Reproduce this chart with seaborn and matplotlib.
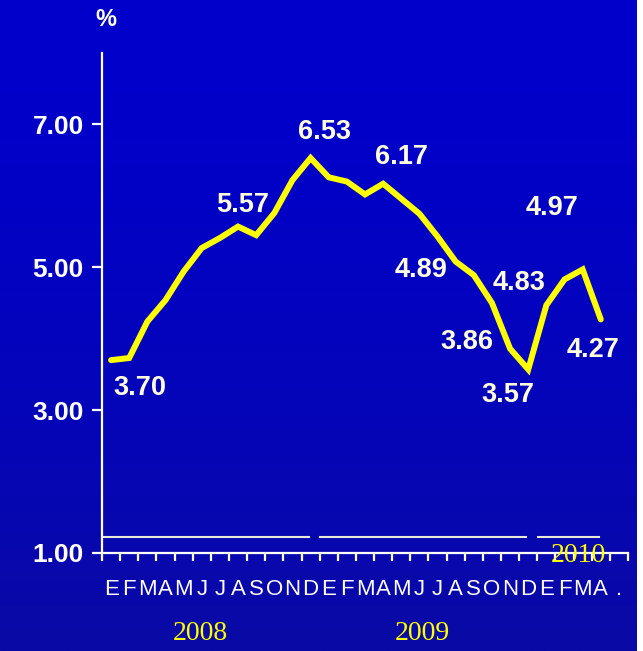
import numpy as np
import pandas as pd
import matplotlib
matplotlib.use("Agg")
import matplotlib.pyplot as plt
import seaborn as sns

# ---- data ----
months = ["E", "F", "M", "A", "M", "J", "J", "A", "S", "O", "N", "D",
          "E", "F", "M", "A", "M", "J", "J", "A", "S", "O", "N", "D",
          "E", "F", "M", "A", "."]
values = [3.70, 3.73, 4.24, 4.54, 4.94, 5.27, 5.41, 5.57, 5.45, 5.76, 6.22, 6.53,
          6.26, 6.20, 6.02, 6.17, 5.96, 5.75, 5.43, 5.08, 4.89, 4.50, 3.86, 3.57,
          4.47, 4.83, 4.97, 4.27]
label_text = ["3.70", "5.57", "6.53", "6.17", "4.89", "3.86", "3.57", "4.83", "4.97", "4.27"]
label_pos_x = [1.6, 7.25, 11.76, 16.0, 17.1, 19.6, 21.9, 22.5, 24.3, 26.6]
label_pos_y = [3.31, 5.87, 6.90, 6.55, 4.96, 3.96, 3.21, 4.78, 5.83, 3.84]
years = ["2008", "2009", "2010"]
year_start = [0, 12, 24]
year_len = [12, 12, 4]
yticks = [1.00, 3.00, 5.00, 7.00]

df = pd.DataFrame({"idx": np.arange(len(values)), "value": values})

W, H = 643, 651
fig = plt.figure(figsize=(W / 100, H / 100), dpi=100)
fig.patch.set_facecolor("white")

# gradient background
bg = fig.add_axes([0, 0, 637 / W, 1], zorder=0)
top = np.array([0, 0, 204]) / 255
bot = np.array([10, 10, 165]) / 255
t = np.linspace(0, 1, 256)[:, None] ** 1.5
grad = top[None, None, :] * (1 - t[..., None]) + bot[None, None, :] * t[..., None]
grad = np.repeat(grad, 2, axis=1)
bg.imshow(grad, aspect="auto", extent=[0, 1, 0, 1])
bg.set_axis_off()

x0, x1 = 102, 628
y0, y1 = 553, 53
ax = fig.add_axes([x0 / W, (H - y0) / H, (x1 - x0) / W, (y0 - y1) / H], zorder=1)
ax.patch.set_alpha(0)

sns.lineplot(data=df, x="idx", y="value", ax=ax, color="#FFFF00", linewidth=4.3,
             solid_joinstyle="miter", solid_capstyle="round")

ax.set_xlim(-0.5, len(months) - 0.5)
ax.set_ylim(1, 8)

for s in ["top", "right"]:
    ax.spines[s].set_visible(False)
for s in ["left", "bottom"]:
    ax.spines[s].set_color("white")
    ax.spines[s].set_linewidth(1.6)

ax.set_yticks(yticks)
ax.set_yticklabels([f"{v:.2f}" for v in yticks], color="white", fontsize=19,
                   fontweight="bold", family=["Liberation Sans", "DejaVu Sans"])
ax.tick_params(axis="y", length=7, width=1.6, color="white", pad=6)

ax.set_xticks(np.arange(len(months) + 1) - 0.5)
ax.set_xticklabels([])
ax.tick_params(axis="x", which="major", length=6, width=1.6, color="white", direction="out")
ax.set_xticks(np.arange(len(months)), minor=True)
ax.set_xticklabels(months, minor=True, color="white", fontsize=16,
                   family=["Liberation Sans Narrow", "Liberation Sans", "DejaVu Sans"])
ax.tick_params(axis="x", which="minor", length=0, pad=19)
ax.set_xlabel("")
ax.set_ylabel("")

# data labels
for tx, px, py in zip(label_text, label_pos_x, label_pos_y):
    ax.text(px, py, tx, color="#FFFFE0", fontsize=19.5, fontweight="bold",
            ha="center", va="center", family=["Liberation Sans", "DejaVu Sans"])

# year bracket lines and year labels
for yr, st, ln in zip(years, year_start, year_len):
    ax.plot([st - 0.5 + 0.03, st - 0.5 + ln - 0.6], [1.22, 1.22], color="#E8E8D8",
            linewidth=1.5, clip_on=False)

fig.text(200 / W, 1 - 634 / H, years[0], color="#FFFF00", fontsize=20,
         family=["Liberation Serif", "DejaVu Serif"], ha="center", va="center")
fig.text(422 / W, 1 - 634 / H, years[1], color="#FFFF00", fontsize=20,
         family=["Liberation Serif", "DejaVu Serif"], ha="center", va="center")
fig.text(578 / W, 1 - 556 / H, years[2], color="#FFFF00", fontsize=20,
         family=["Liberation Serif", "DejaVu Serif"], ha="center", va="center", zorder=5)

fig.text(106 / W, 1 - 20 / H, "%", color="#FFFFE8", fontsize=17, fontweight="bold",
         family=["Liberation Sans", "DejaVu Sans"], ha="center", va="center")

fig.savefig("out.png", dpi=100)
